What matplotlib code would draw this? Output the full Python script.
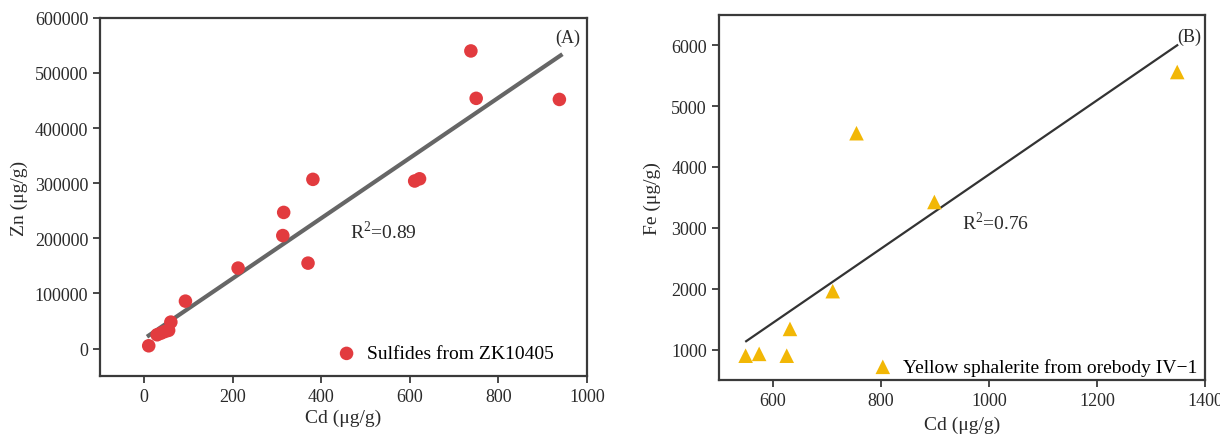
import matplotlib
matplotlib.use("Agg")
import matplotlib.pyplot as plt

plt.rcParams["font.family"] = ["Liberation Serif", "DejaVu Serif"]

# (A) sulfides from ZK10405
cd_a = [10, 29, 38, 47, 55, 60, 93, 212, 313, 315, 370, 381, 611, 622, 738, 750, 938]
zn_a = [5000, 25000, 28000, 31000, 33000, 48000, 86000, 146000, 205000, 247000,
        155000, 307000, 304000, 308000, 540000, 454000, 452000]
fit_cd_a = [10, 941]
fit_zn_a = [23600, 532000]

# (B) yellow sphalerite from orebody IV-1
cd_b = [550, 575, 626, 632, 711, 755, 899, 1348]
fe_b = [900, 930, 900, 1340, 1960, 4555, 3425, 5560]
fit_cd_b = [551, 1348]
fit_fe_b = [1138, 6000]

fig = plt.figure(figsize=(12.2, 4.39), dpi=100)
ax1 = fig.add_axes([0.082, 0.141, 0.399, 0.816])
ax2 = fig.add_axes([0.589, 0.132, 0.399, 0.832])

for ax in (ax1, ax2):
    for s in ax.spines.values():
        s.set_color("#3a3a3a")
        s.set_linewidth(1.6)
    ax.tick_params(direction="out", length=5, width=1.3, color="#3a3a3a",
                   labelsize=13, labelcolor="#2a2a2a")

ax1.plot(fit_cd_a, fit_zn_a, color="#666666", lw=3, zorder=2)
ax1.scatter(cd_a, zn_a, s=95, color="#e23b3f", edgecolors="none", zorder=3,
            label="Sulfides from ZK10405")
ax1.set_xlim(-100, 1000)
ax1.set_ylim(-50000, 600000)
ax1.set_xticks([0, 200, 400, 600, 800, 1000])
ax1.set_yticks([0, 100000, 200000, 300000, 400000, 500000, 600000])
ax1.set_xlabel("Cd (μg/g)", fontsize=14, color="#2a2a2a", labelpad=3)
ax1.set_ylabel("Zn (μg/g)", fontsize=14, color="#2a2a2a", labelpad=5)
ax1.text(465, 213000, r"R$^\mathregular{2}$=0.89", fontsize=14, va="center", color="#2a2a2a")
ax1.text(985, 565000, "(A)", fontsize=13, ha="right", va="center", color="#2a2a2a")
ax1.legend(loc="lower right", frameon=False, fontsize=14, handletextpad=0.05,
           borderaxespad=0.3, bbox_to_anchor=(0.96, 0.0))

ax2.plot(fit_cd_b, fit_fe_b, color="#333333", lw=1.6, zorder=2)
ax2.scatter(cd_b, fe_b, s=110, marker="^", color="#f2b705", edgecolors="none", zorder=3,
            label="Yellow sphalerite from orebody IV\u22121")
ax2.set_xlim(500, 1400)
ax2.set_ylim(500, 6500)
ax2.set_xticks([600, 800, 1000, 1200, 1400])
ax2.set_yticks([1000, 2000, 3000, 4000, 5000, 6000])
ax2.set_xlabel("Cd (μg/g)", fontsize=14, color="#2a2a2a", labelpad=5)
ax2.set_ylabel("Fe (μg/g)", fontsize=14, color="#2a2a2a", labelpad=7)
ax2.text(950, 3100, r"R$^\mathregular{2}$=0.76", fontsize=14, va="center", color="#2a2a2a")
ax2.text(1392, 6150, "(B)", fontsize=13, ha="right", va="center", color="#2a2a2a")
ax2.legend(loc="lower right", frameon=False, fontsize=14, handletextpad=0.05,
           borderaxespad=0.0, bbox_to_anchor=(1.0, -0.01))

fig.savefig("out.png", dpi=100)
